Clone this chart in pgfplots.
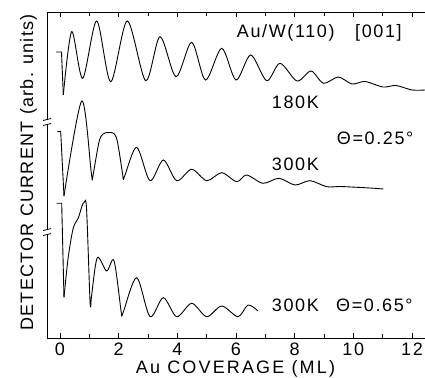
\documentclass[border=0pt]{standalone}
\usepackage{pgfplots}
\pgfplotsset{compat=1.18}
\usepackage{fontspec}
\setmainfont{Liberation Sans}[LetterSpace=9]
\begin{document}
\begin{tikzpicture}[font=\fontsize{18}{21}\selectfont]
\begin{axis}[
  at={(47pt,39pt)}, anchor=south west,
  scale only axis, width=378pt, height=326pt,
  xmin=-0.443, xmax=12.444, ymin=0, ymax=326,
  axis x line*=box, axis y line*=left,
  axis line style={line width=0.9pt},
  xtick={0,2,...,12}, minor xtick={1,3,...,11},
  xtick pos=both, xticklabel pos=lower,
  tick align=inside,
  major tick length=5pt, minor tick length=4pt,
  every tick/.style={black, line width=0.7pt},
  ytick=\empty,
  /pgf/number format/assume math mode=true,
  xticklabel style={font=\fontsize{18}{21}\selectfont, inner sep=0pt, yshift=-5pt},
  clip mode=individual,
]
% 180K
\addplot[black, line width=0.9pt, sharp plot] coordinates {(-0.136,286) (0.051,286) (0.113,243)};
\addplot[black, line width=0.9pt, smooth] coordinates {
(0.113,243) (0.399,306.3) (0.774,259.7) (1.251,317) (1.729,256.3) (2.295,317) (2.922,257.3)
(3.410,301.3) (3.955,261.3) (4.490,295.7) (4.961,258) (5.513,289.7) (6.001,258) (6.502,283)
(7.047,257.3) (7.501,274.7) (8.080,257) (8.558,267) (8.984,254.7) (9.488,261) (9.955,254)
(10.399,256.5) (11.013,251) (11.456,252.5) (12.001,248) (12.444,248)};
% 300K, 0.25
\addplot[black, line width=0.9pt, sharp plot] coordinates {(-0.092,206.3) (0.024,206.3) (0.136,142)};
\addplot[black, line width=0.9pt, smooth] coordinates {
(0.136,142) (0.740,237) (1.064,166) (1.101,158) (1.135,164) (1.330,196) (1.466,204) (1.654,205.5)
(1.841,204.5) (1.960,196) (2.124,166) (2.158,158.7) (2.209,162.3) (2.615,190.7) (3.069,157.3)
(3.522,178) (3.979,157.3) (4.490,168.7) (5.002,157.3) (5.513,165.3) (6.024,156.3) (6.365,163)
(6.921,154.7) (7.467,159.7) (8.012,153) (8.524,157.3) (9.093,151.3) (9.547,151.5) (10.116,150.7)
(10.569,150) (11.023,149)};
% 300K, 0.65
\addplot[black, line width=0.9pt, sharp plot] coordinates {(-0.113,134.7) (0.058,134.7) (0.136,40.7)};
\addplot[black, line width=0.9pt, smooth] coordinates {
(0.136,40.7) (0.283,81.3) (0.453,110) (0.624,120) (0.750,132) (0.828,135.7) (0.904,130)
(1.016,42) (1.047,31.3) (1.077,42) (1.272,80.3) (1.592,67) (1.841,77.3) (2.077,28) (2.104,22)
(2.165,26.5) (2.615,60.3) (3.069,21.3) (3.522,40.3) (3.979,21.3) (4.490,34.7) (5.002,21.3)
(5.513,32) (6.069,21.3) (6.410,33) (6.751,27)};
% labels
\node[anchor=base west, inner sep=0pt] at (axis cs:6.025,300.7) {Au/W(110)};
\node[anchor=base west, inner sep=0pt] at (axis cs:10.058,300.7) {[001]};
\node[anchor=base west, inner sep=0pt] at (axis cs:7.218,229.7) {180K};
\node[anchor=base west, inner sep=0pt] at (axis cs:9.434,193) {Θ=0.25°};
\node[anchor=base west, inner sep=0pt] at (axis cs:7.218,167) {300K};
\node[anchor=base west, inner sep=0pt] at (axis cs:7.218,26.3) {300K};
\node[anchor=base west, inner sep=0pt] at (axis cs:9.410,26.3) {Θ=0.65°};
% axis breaks
\fill[white] ([xshift=-1.5pt,yshift=-2pt]rel axis cs:0,0.6626) rectangle ([xshift=1.5pt,yshift=2pt]rel axis cs:0,0.6626);
\draw[black, line width=0.8pt] ([xshift=-4pt,yshift=-3.5pt]rel axis cs:0,0.6626) -- ([xshift=4pt,yshift=-1.5pt]rel axis cs:0,0.6626);
\draw[black, line width=0.8pt] ([xshift=-4pt,yshift=1.5pt]rel axis cs:0,0.6626) -- ([xshift=4pt,yshift=3.5pt]rel axis cs:0,0.6626);
\fill[white] ([xshift=-1.5pt,yshift=-2pt]rel axis cs:0,0.325) rectangle ([xshift=1.5pt,yshift=2pt]rel axis cs:0,0.325);
\draw[black, line width=0.8pt] ([xshift=-4pt,yshift=-3.5pt]rel axis cs:0,0.325) -- ([xshift=4pt,yshift=-1.5pt]rel axis cs:0,0.325);
\draw[black, line width=0.8pt] ([xshift=-4pt,yshift=1.5pt]rel axis cs:0,0.325) -- ([xshift=4pt,yshift=3.5pt]rel axis cs:0,0.325);
\node[anchor=base, inner sep=0pt, font={\fontsize{18}{21}\selectfont\addfontfeatures{LetterSpace=12}}] at ([yshift=-35.3pt]rel axis cs:0.4987,0) {Au COVERAGE (ML)};
\node[anchor=base, inner sep=0pt, rotate=90, font={\fontsize{18}{21}\selectfont\addfontfeatures{LetterSpace=7}}] at ([xshift=-14pt]rel axis cs:0,0.508) {DETECTOR CURRENT (arb. units)};
\end{axis}
\pgfresetboundingbox
\path[use as bounding box] (0,0) rectangle (425pt,377pt);
\end{tikzpicture}
\end{document}
